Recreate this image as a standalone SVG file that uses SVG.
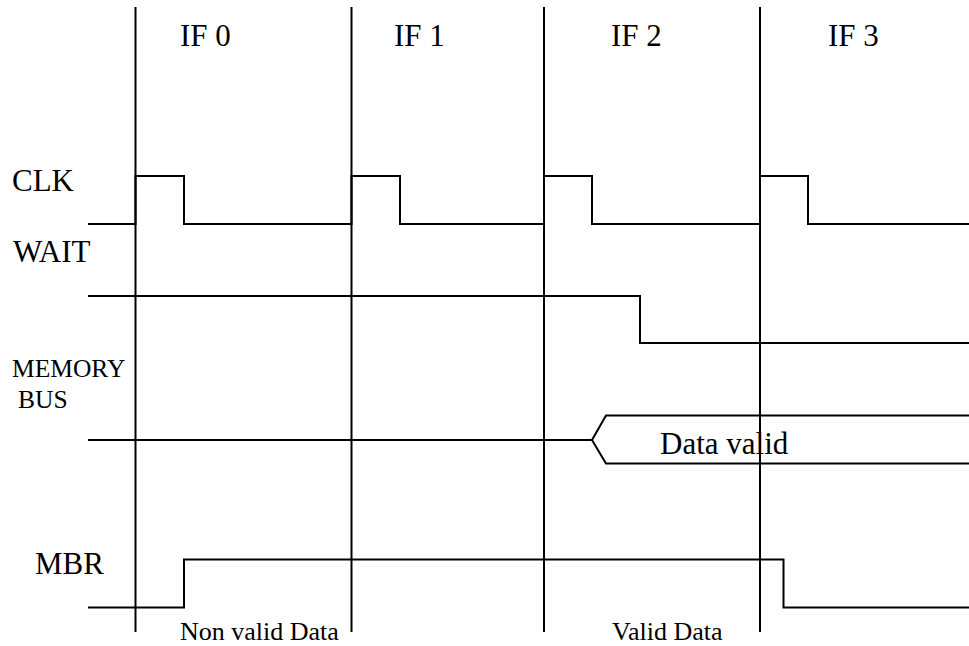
<svg xmlns="http://www.w3.org/2000/svg" width="969" height="646" viewBox="0 0 969 646">
  <style>
    .ln { fill: none; stroke: #000; stroke-width: 2; }
    .lbl { font-family: "Liberation Serif", "Times New Roman", serif; fill: #000; }
    .big { font-size: 31px; }
    .mid { font-size: 25.5px; }
    .sml { font-size: 26px; }
  </style>
  <rect width="969" height="646" fill="#fff"/>

  <!-- cycle boundaries -->
  <g id="cycle-lines">
    <line class="ln" x1="135.5" y1="7" x2="135.5" y2="632"/>
    <line class="ln" x1="351.5" y1="7" x2="351.5" y2="632"/>
    <line class="ln" x1="544" y1="7" x2="544" y2="632"/>
    <line class="ln" x1="760" y1="7" x2="760" y2="632"/>
  </g>

  <!-- cycle headings -->
  <g id="headings" class="lbl big">
    <text x="180" y="46">IF 0</text>
    <text x="394" y="46">IF 1</text>
    <text x="611" y="46">IF 2</text>
    <text x="828" y="46">IF 3</text>
  </g>

  <!-- signal names -->
  <g id="signal-names" class="lbl">
    <text class="big" x="12" y="191">CLK</text>
    <text class="big" x="13" y="262">WAIT</text>
    <text class="mid" x="12" y="377">MEMORY</text>
    <text class="mid" x="18" y="408">BUS</text>
    <text class="big" x="35" y="574">MBR</text>
  </g>

  <g id="waveforms">
    <!-- clock -->
    <g id="clk">
      <polyline class="ln" points="88,224 135.5,224 135.5,176 184,176 184,224 351.5,224 351.5,176 400,176 400,224 544,224 544,176 592,176 592,224 760,224 760,176 808,176 808,224 969,224"/>
    </g>
    <!-- wait -->
    <g id="wait">
      <polyline class="ln" points="88,296 640,296 640,343 969,343"/>
    </g>
    <!-- memory bus -->
    <g id="memory-bus">
      <polyline class="ln" points="88,440 592,440"/>
      <polyline class="ln" points="969,415.5 606,415.5 592,440 606,463.5 969,463.5"/>
      <text class="lbl big" x="660" y="454">Data valid</text>
    </g>
    <!-- memory buffer register -->
    <g id="mbr">
      <polyline class="ln" points="88,607.5 184,607.5 184,559.5 783.5,559.5 783.5,607.5 969,607.5"/>
    </g>
  </g>

  <!-- interval notes -->
  <g id="notes" class="lbl sml">
    <text x="180" y="640">Non valid Data</text>
    <text x="612" y="640">Valid Data</text>
  </g>
</svg>
